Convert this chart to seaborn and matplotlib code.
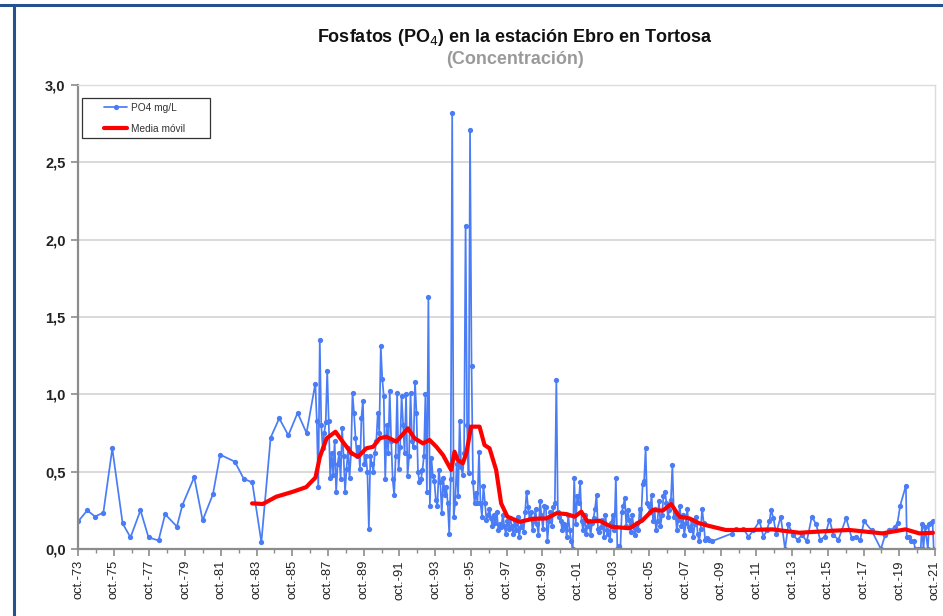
import numpy as np
import pandas as pd
import matplotlib
matplotlib.use("Agg")
import matplotlib.pyplot as plt
from matplotlib.lines import Line2D
from matplotlib.patches import Rectangle
import seaborn as sns

sns.set_theme(style="white")
plt.rcParams["font.family"] = ["Liberation Sans", "DejaVu Sans"]

# --- Muestreos esporádicos 1973-1986 (año decimal, mg/L) ---
t_inicial = [1973.77, 1974.27, 1974.70, 1975.17, 1975.67, 1976.25, 1976.69,
             1977.25, 1977.70, 1978.26, 1978.63, 1979.29, 1979.60, 1980.26,
             1980.73, 1981.31, 1981.71, 1982.53, 1983.03, 1983.51, 1984.02,
             1984.54, 1985.02, 1985.53, 1986.05, 1986.55]
po4_inicial = [0.18, 0.25, 0.21, 0.235, 0.65, 0.165, 0.075,
               0.25, 0.075, 0.055, 0.225, 0.145, 0.285, 0.465,
               0.185, 0.355, 0.61, 0.565, 0.455, 0.43, 0.045,
               0.72, 0.845, 0.735, 0.88, 0.75]

# --- Muestreo mensual, enero 1987 - diciembre 2008 (mg/L) ---
inicio_mensual = 1987
po4_mensual = [
    # 1987
    1.07, 0.83, 0.40, 1.35, 0.80, 0.65, 0.75, 0.82, 1.15, 0.83, 0.46, 0.62,
    # 1988
    0.48, 0.70, 0.37, 0.55, 0.62, 0.45, 0.78, 0.60, 0.37, 0.52, 0.65, 0.46,
    # 1989
    0.62, 1.01, 0.88, 0.72, 0.60, 0.66, 0.52, 0.85, 0.96, 0.55, 0.60, 0.50,
    # 1990
    0.13, 0.60, 0.55, 0.50, 0.62, 0.70, 0.88, 0.75, 1.31, 1.10, 0.99, 0.45,
    # 1991
    0.80, 0.62, 1.02, 0.70, 0.45, 0.35, 0.60, 1.01, 0.52, 0.66, 0.99, 0.80,
    # 1992
    0.62, 1.00, 0.47, 0.60, 1.01, 0.70, 0.66, 1.08, 0.88, 0.50, 0.43, 0.45,
    # 1993
    0.51, 0.60, 1.00, 0.37, 1.63, 0.28, 0.59, 0.47, 0.44, 0.32, 0.28, 0.51,
    # 1994
    0.43, 0.23, 0.46, 0.35, 0.40, 0.30, 0.10, 0.45, 2.82, 0.21, 0.30, 0.55,
    # 1995
    0.34, 0.83, 0.53, 0.48, 0.62, 2.09, 0.80, 0.49, 2.71, 1.18, 0.43, 0.30,
    # 1996
    0.36, 0.30, 0.63, 0.30, 0.21, 0.41, 0.30, 0.19, 0.22, 0.26, 0.20, 0.15,
    # 1997
    0.22, 0.17, 0.24, 0.12, 0.16, 0.14, 0.22, 0.15, 0.10, 0.18, 0.13, 0.20,
    # 1998
    0.15, 0.10, 0.18, 0.12, 0.21, 0.08, 0.14, 0.17, 0.11, 0.24, 0.37, 0.27,
    # 1999
    0.20, 0.24, 0.12, 0.18, 0.26, 0.16, 0.09, 0.31, 0.22, 0.13, 0.28, 0.27,
    # 2000
    0.05, 0.18, 0.24, 0.15, 0.27, 0.30, 1.09, 0.24, 0.21, 0.18, 0.12, 0.16,
    # 2001
    0.15, 0.08, 0.22, 0.12, 0.05, 0.00, 0.46, 0.16, 0.34, 0.30, 0.43, 0.18,
    # 2002
    0.12, 0.22, 0.10, 0.15, 0.18, 0.09, 0.17, 0.20, 0.26, 0.35, 0.13, 0.11,
    # 2003
    0.14, 0.19, 0.08, 0.22, 0.12, 0.10, 0.06, 0.17, 0.22, 0.12, 0.46, 0.00,
    # 2004
    0.02, 0.00, 0.24, 0.28, 0.33, 0.15, 0.25, 0.19, 0.11, 0.22, 0.14, 0.09,
    # 2005
    0.17, 0.12, 0.26, 0.19, 0.42, 0.44, 0.65, 0.30, 0.28, 0.24, 0.35, 0.18,
    # 2006
    0.26, 0.12, 0.18, 0.31, 0.15, 0.22, 0.34, 0.37, 0.30, 0.21, 0.25, 0.32,
    # 2007
    0.54, 0.21, 0.24, 0.12, 0.19, 0.28, 0.15, 0.22, 0.09, 0.17, 0.26, 0.14,
    # 2008
    0.12, 0.19, 0.08, 0.16, 0.21, 0.10, 0.05, 0.13, 0.26, 0.17, 0.06, 0.07,
]

# --- Muestreos 2009-2021 (año decimal, mg/L) ---
t_final = [2009.10, 2009.25, 2010.37, 2010.61, 2011.02, 2011.30, 2011.58,
           2011.92, 2012.14, 2012.33, 2012.48, 2012.57, 2012.70, 2012.85,
           2013.11, 2013.35, 2013.54, 2013.79, 2014.05, 2014.30, 2014.57,
           2014.85, 2015.09, 2015.32, 2015.58, 2015.84, 2016.06, 2016.34,
           2016.77, 2017.09, 2017.30, 2017.56, 2017.78, 2018.20, 2018.72,
           2018.96, 2019.20, 2019.50, 2019.65, 2019.80, 2020.12, 2020.17,
           2020.30, 2020.42, 2020.55, 2020.65, 2020.80, 2020.95, 2021.02,
           2021.10, 2021.20, 2021.35, 2021.42, 2021.50, 2021.61, 2021.68]
po4_final = [0.06, 0.05, 0.10, 0.13, 0.13, 0.08, 0.12,
             0.18, 0.08, 0.12, 0.18, 0.25, 0.20, 0.10,
             0.21, 0.00, 0.16, 0.09, 0.06, 0.09, 0.05,
             0.21, 0.16, 0.06, 0.08, 0.19, 0.09, 0.06,
             0.20, 0.07, 0.08, 0.06, 0.18, 0.12, 0.00,
             0.09, 0.12, 0.14, 0.17, 0.28, 0.41, 0.08,
             0.08, 0.05, 0.05, 0.00, 0.00, 0.00, 0.16,
             0.00, 0.14, 0.00, 0.16, 0.17, 0.18, 0.00]

# --- Media móvil (año decimal, mg/L) ---
t_media = [1983.50, 1984.10, 1984.85, 1985.78, 1986.53, 1987.05, 1987.30,
           1987.68, 1988.17, 1988.60, 1989.07, 1989.44, 1989.90, 1990.28,
           1990.65, 1991.02, 1991.58, 1992.23, 1992.60, 1993.07, 1993.44,
           1993.82, 1994.19, 1994.65, 1994.84, 1995.02, 1995.30, 1995.50,
           1995.77, 1996.24, 1996.52, 1996.80, 1997.17, 1997.45, 1997.80,
           1998.48, 1999.23, 1999.99, 2000.55, 2001.10, 2001.57, 2001.94,
           2002.30, 2002.96, 2003.61, 2004.64, 2005.38, 2005.94, 2006.50,
           2006.97, 2007.43, 2007.99, 2008.55, 2009.10, 2010.03, 2011.33,
           2012.64, 2014.15, 2016.00, 2016.95, 2018.80, 2020.10, 2020.87,
           2021.65]
media = [0.295, 0.291, 0.338, 0.370, 0.400, 0.462, 0.597,
         0.716, 0.758, 0.690, 0.619, 0.597, 0.651, 0.661,
         0.716, 0.726, 0.694, 0.780, 0.716, 0.683, 0.705,
         0.661, 0.608, 0.511, 0.629, 0.575, 0.554, 0.619,
         0.791, 0.791, 0.672, 0.651, 0.511, 0.295, 0.209,
         0.176, 0.195, 0.198, 0.231, 0.226, 0.209, 0.241,
         0.176, 0.183, 0.144, 0.134, 0.187, 0.252, 0.248,
         0.291, 0.209, 0.198, 0.166, 0.149, 0.123, 0.123,
         0.127, 0.105, 0.118, 0.123, 0.101, 0.127, 0.101,
         0.105]

# Eje X: etiquetas cada dos años (octubre)
anios_etiqueta = list(range(1973, 2022, 2))

# --- Construcción de tablas ---
t_mensual = inicio_mensual + (np.arange(len(po4_mensual)) + 0.5) / 12.0
serie = pd.DataFrame({
    "t": np.concatenate([t_inicial, t_mensual, t_final]),
    "po4": np.concatenate([po4_inicial, po4_mensual, po4_final]),
})
movil = pd.DataFrame({"t": t_media, "media": media})

AZUL = "#4a7cf5"
ROJO = "#ff0000"

fig = plt.figure(figsize=(9.43, 6.16), dpi=100)
ax = fig.add_axes([78 / 943, 1 - 549 / 616, (935 - 78) / 943, (549 - 85) / 616])

sns.lineplot(data=serie, x="t", y="po4", ax=ax, color=AZUL, linewidth=1.25,
             marker="o", markersize=3.8, markeredgewidth=0,
             estimator=None, sort=False, label="PO4 mg/L")
sns.lineplot(data=movil, x="t", y="media", ax=ax, color=ROJO, linewidth=3.0,
             estimator=None, sort=False, label="Media móvil",
             solid_joinstyle="round", solid_capstyle="round")

# Escalas
ax.set_xlim(1973.75, 2021.75)
ax.set_ylim(0, 3.0)
ax.set_xlabel("")
ax.set_ylabel("")

major = [a + 0.75 for a in anios_etiqueta]
ax.set_xticks(major)
ax.set_xticklabels([f"oct.-{a % 100:02d}" for a in anios_etiqueta],
                   rotation=90, fontsize=9.3, color="#222222")
ax.set_xticks([a + 0.75 for a in range(1973, 2022)], minor=True)

yt = np.arange(0, 3.01, 0.5)
ax.set_yticks(yt)
ax.set_yticklabels([f"{v:.1f}".replace(".", ",") for v in yt],
                   fontsize=10.5, fontweight="bold", color="#222222")

ax.yaxis.grid(True, color="#d9d9d9", linewidth=1.4)
ax.xaxis.grid(False)
ax.set_axisbelow(True)

for lado in ("left", "bottom"):
    ax.spines[lado].set_color("#8c8c8c")
    ax.spines[lado].set_linewidth(1.6)
for lado in ("top", "right"):
    ax.spines[lado].set_color("#dcdcdc")
    ax.spines[lado].set_linewidth(1.0)

ax.tick_params(axis="x", which="major", direction="out", length=5, width=1.2,
               color="#8c8c8c", pad=3, bottom=True)
ax.tick_params(axis="x", which="minor", direction="out", length=3, width=1.0,
               color="#8c8c8c", bottom=True)
ax.tick_params(axis="y", which="major", direction="out", length=5, width=1.2,
               color="#8c8c8c", pad=4, left=True)

# Leyenda: marco fijo y entradas sin marco propio
ax_w, ax_h = 935 - 78, 549 - 85
ax.add_patch(Rectangle(((82 - 78) / ax_w, (549 - 138) / ax_h),
                       (210 - 82) / ax_w, (138 - 98) / ax_h,
                       transform=ax.transAxes, facecolor="white",
                       edgecolor="#333333", linewidth=0.9, zorder=5))
leg = ax.legend(loc="upper left", bbox_to_anchor=((104 - 78) / ax_w, (549 - 103) / ax_h),
                fontsize=7.3, frameon=False, handlelength=2.3, borderpad=0.0,
                labelspacing=1.05, handletextpad=0.4, borderaxespad=0.0)
leg.set_zorder(6)
for txt in leg.get_texts():
    txt.set_color("#333333")

# Títulos
fig.text(515 / 943, 1 - 38 / 616, "Fosfatos (PO$_4$) en la estación Ebro en Tortosa",
         ha="center", va="center", fontsize=13, fontweight="bold", color="#111111")
fig.text(515 / 943, 1 - 60 / 616, "(Concentración)", ha="center", va="center",
         fontsize=13, fontweight="bold", color="#9a9a9a")

# Marco exterior
marco = "#26508e"
fig.add_artist(Line2D([0, 1], [1 - 5 / 616, 1 - 5 / 616], transform=fig.transFigure,
                      color=marco, linewidth=2.2))
fig.add_artist(Line2D([14 / 943, 14 / 943], [0, 1 - 5 / 616], transform=fig.transFigure,
                      color=marco, linewidth=2.2))

fig.savefig("out.png", dpi=100, facecolor="white")
